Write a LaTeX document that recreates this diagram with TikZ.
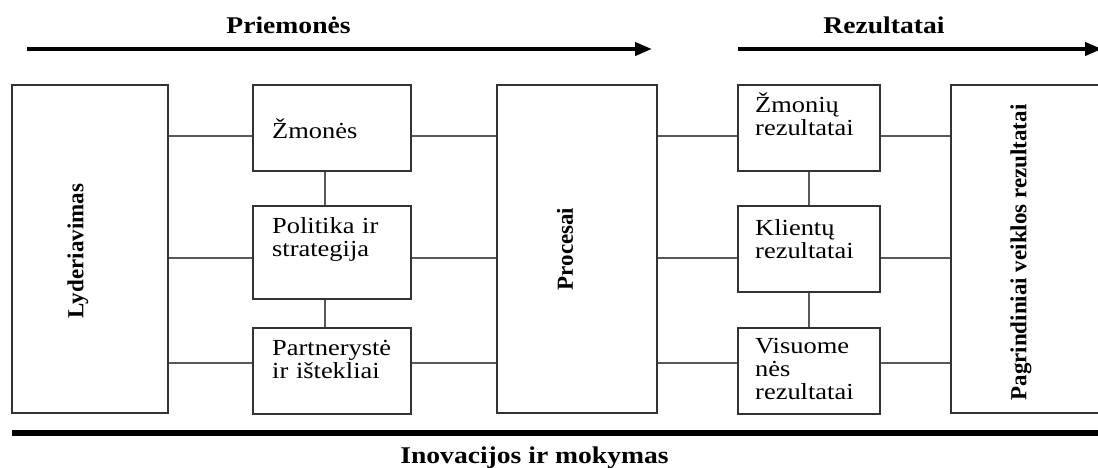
\documentclass[tikz,border=0pt]{standalone}
\usepackage{fontspec}
\setmainfont{Liberation Serif}[FakeStretch=1.15]
\newfontfamily\rotfont{Liberation Serif}
\usetikzlibrary{arrows.meta,positioning}

\begin{document}
\begin{tikzpicture}[x=1pt,y=1pt,
  blok/.style={draw=black!80,line width=1.4pt,inner sep=0pt},
  txt/.style={anchor=base west,align=left,inner sep=0pt,text width=130pt,
    font=\fontsize{23}{23}\selectfont},
  rotlab/.style={rotate=90,inner sep=0pt,font=\rotfont\fontsize{23}{23}\selectfont\bfseries},
  head/.style={anchor=base,inner sep=0pt,font=\fontsize{24}{24}\selectfont\bfseries},
  jung/.style={draw=black!65,line width=1.6pt},
  strela/.style={line width=4pt,-{Triangle[length=17pt,width=13pt]}}]
  \useasboundingbox (0,0) rectangle (1098,467);
  \node[blok,minimum width=156pt,minimum height=328pt] (lyd) at (90,218) {};
  \node[blok,minimum width=160pt,minimum height=328pt] (proc) at (577,218) {};
  \node[blok,minimum width=160pt,minimum height=328pt] (pag) at (1031,218) {};
  \foreach \nm/\yy/\hh in {zm/339/86,pol/214.5/93,par/96/86}
    \node[blok,minimum width=158pt,minimum height=\hh pt] (\nm) at (332,\yy) {};
  \foreach \nm/\yy in {zr/339,kl/218,vis/96}
    \node[blok,minimum width=142pt,minimum height=86pt] (\nm) at (809,\yy) {};
  \foreach \nm/\xx/\yy/\txt in {zmt/272/329/{Žmonės},polt/272/234/{Politika ir\\strategija},
      part/272/112/{Partnerystė\\ir ištekliai},zrt/755/354/{Žmonių\\rezultatai},
      klt/755/232/{Klientų\\rezultatai},vist/755/114/{Visuome\\nės\\rezultatai}}
    \node[txt] (\nm) at (\xx,\yy) {\txt};
  \node[rotlab] (lydt) at (78,216) {Lyderiavimas};
  \node[rotlab] (proct) at (565,218) {Procesai};
  \node[rotlab] (pagt) at (1021,214.5) {Pagrindiniai veiklos rezultatai};
  \coordinate (r1) at (0,331);
  \coordinate (r2) at (0,209);
  \coordinate (r3) at (0,104);
  \foreach \r/\a/\b in {r1/zm/zr,r2/pol/kl,r3/par/vis}
    \draw[jung] (lyd.east |- \r) -- (\a.west |- \r) (\a.east |- \r) -- (proc.west |- \r)
      (proc.east |- \r) -- (\b.west |- \r) (\b.east |- \r) -- (pag.west |- \r);
  \draw[jung] ([xshift=-7pt]zm.south) -- ([xshift=-7pt]pol.north)
    ([xshift=-7pt]pol.south) -- ([xshift=-7pt]par.north);
  \draw[jung] (zr.south) -- (kl.north) (kl.south) -- (vis.north);
  \coordinate (a1s) at (27,418);
  \coordinate (a1e) at (652,418);
  \coordinate (a2s) at (738,418);
  \coordinate (a2e) at (1102,418);
  \draw[strela] (a1s) -- (a1e);
  \draw[strela] (a2s) -- (a2e);
  \node[head] (prm) at (288.5,433) {Priemonės};
  \node[head] (rez) at (884,433) {Rezultatai};
  \coordinate (b1) at (12,34);
  \coordinate (b2) at (1110,34);
  \draw[line width=6pt] (b1) -- (b2);
  \node[head] (ino) at (534.5,4) {Inovacijos ir mokymas};
\end{tikzpicture}
\end{document}
